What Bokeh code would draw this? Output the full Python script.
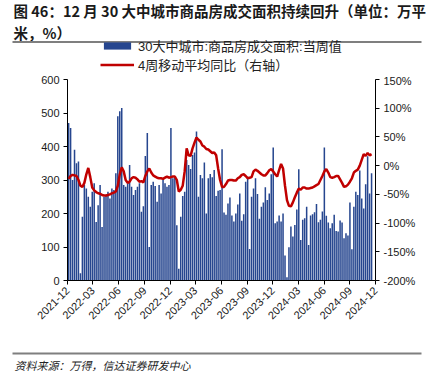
import pandas as pd
from math import pi
from bokeh.plotting import figure
from bokeh.models import (Range1d, LinearAxis, FixedTicker, DatetimeTickFormatter,
                          Legend, LegendItem, CustomJSTickFormatter, ColumnDataSource,
                          BoxAnnotation)
from bokeh.layouts import column
from bokeh.embed import file_html
from bokeh.resources import INLINE
from bokeh.core.properties import value

title_line1 = "图 46：12 月 30 大中城市商品房成交面积持续回升（单位：万平"
title_line2 = "米，%）"
source_text = "资料来源：万得，信达证券研发中心"
bar_label = "30大中城市:商品房成交面积:当周值"
line_label = "4周移动平均同比（右轴）"

first_week = "2021-12-05"
tick_labels = ["2021-12", "2022-03", "2022-06", "2022-09", "2022-12", "2023-03", "2023-06",
               "2023-09", "2023-12", "2024-03", "2024-06", "2024-09", "2024-12"]
left_ticks = [0, 100, 200, 300, 400, 500, 600]
right_ticks = [-200, -150, -100, -50, 0, 50, 100, 150]

# weekly transaction area (10k m2)
area = [
    470, 455, 300, 390, 350, 355, 22, 190, 285, 275, 250, 220, 265, 290,
    175, 225, 285, 160, 250, 255, 265, 245, 275, 270, 320, 490, 505, 515,
    285, 280, 290, 345, 280, 255, 270, 280, 290,
    205, 222, 372, 440, 100, 285, 295, 282, 235, 285, 260, 300, 290, 280,
    285, 455, 305, 310, 165, 35, 190, 252, 265, 360, 345, 333, 375, 382,
    445, 250, 315, 305, 352, 200, 305, 318, 308, 330, 252, 268, 270, 392,
    203, 196, 230, 248, 194, 176, 200, 227, 260, 178, 198, 295, 310, 94,
    250, 275, 305, 258, 184, 220, 233, 278, 240, 260, 317, 397, 171, 176,
    194, 176, 200, 75, 10, 99, 161, 131, 166, 212, 332,
    121, 181, 186, 220, 106, 194, 198, 204, 228, 174, 181, 206, 397, 193,
    173, 156, 171, 196, 148, 146, 179, 173, 126, 141, 134, 233, 93, 220,
    265, 255, 328, 245, 215, 287, 371, 260, 320,
]

# 4-week moving average YoY (%)
yoy = [
    -23, -18, -16, -17, -18, -25, -35, -37, -30, -15, -4, -20, -38, -43,
    -46, -48, -49, -51, -52, -52, -51, -50, -48, -47, -45, -35, -15, -3,
    -10, -25, -30, -28, -22, -20, -21, -24, -28,
    -27, -29, -18, -10, -5, -12, -17, -19, -21, -22, -22, -23, -21, -19,
    -21, -20, -19, -19, -25, -45, -42, -35, -10, 30, 18, 17, 30, 40,
    49, 45, 42, 35, 33, 29, 28, 25, 22, 23, 18, -5, -25, -37,
    -37, -32, -26, -25, -25, -26, -26, -22, -20, -16, -15, -18, -22, -21,
    -20, -10, -7, -9, -12, -15, -17, -17, -13, -8, -6, -10, -15, -19,
    -8, 3, -5, -35, -60, -70, -71, -64, -55, -47, -40,
    -42, -38, -38, -40, -40, -39, -38, -36, -34, -32, -25, -18, -10, -6,
    -12, -20, -21, -20, -18, -18, -24, -30, -37, -36, -33, -28, -22, -12,
    -9, -7, 0, 10, 20, 17, 22, 18, 20,
]

weeks = pd.date_range(first_week, periods=len(area), freq="7D")
src = ColumnDataSource(dict(week=weeks, area=area, yoy=yoy))

CJK = "Noto Sans CJK SC"
NUM = "Liberation Sans"
DAY_MS = 86400000
W = 426
BAR_COLOR = "#26468F"
LINE_COLOR = "#C00000"
SEP_COLOR = "#7f7f7f"


def strip(height):
    f = figure(width=W, height=height, x_range=Range1d(0, W), y_range=Range1d(0, height),
               output_backend="svg", toolbar_location=None, min_border=0,
               x_axis_location=None, y_axis_location=None)
    f.frame_align = False
    f.grid.visible = False
    f.outline_line_color = None
    return f


# ---------- top: title + legend ----------
HT = 74
top = strip(HT)
top.text(x=[13, 13], y=[HT - 10, HT - 32], text=[title_line1, title_line2],
         text_font=value(CJK), text_font_size="14.5px", text_font_style="bold",
         text_color="#1a1a1a", text_baseline="middle", text_align="left")
top.add_layout(BoxAnnotation(left=12, right=421, bottom=HT - 42.5, top=HT - 40.5,
                             fill_color=SEP_COLOR, fill_alpha=1, line_color=None))

# legend: the same series, repeated on this strip only as legend entries (out of range here)
lg_bar = top.vbar(x="week", top="area", width=5.4 * DAY_MS, source=src,
                  fill_color=BAR_COLOR, line_color=None)
lg_line = top.line(x="week", y="yoy", source=src, line_color=LINE_COLOR, line_width=2.5)
legend = Legend(items=[LegendItem(label=bar_label, renderers=[lg_bar]),
                       LegendItem(label=line_label, renderers=[lg_line])],
                location=(100, 0), orientation="vertical", padding=0, margin=0,
                spacing=0, glyph_width=34, glyph_height=9, label_height=13,
                label_standoff=4, border_line_color=None, background_fill_alpha=0,
                label_text_font="Liberation Sans, Noto Sans CJK SC",
                label_text_font_size="13px", label_text_color="#222222")
top.add_layout(legend)

# ---------- main chart ----------
p = figure(width=W, height=271, x_axis_type="datetime",
           x_range=Range1d(pd.Timestamp("2021-12-01"), pd.Timestamp("2024-12-01")),
           y_range=Range1d(0, 600),
           output_backend="svg", toolbar_location=None,
           min_border_left=67, min_border_right=51, min_border_top=5, min_border_bottom=65)
p.frame_align = False
p.grid.visible = False
p.outline_line_color = None
p.extra_y_ranges = {"pct": Range1d(-200, 150)}

p.vbar(x="week", top="area", width=5.4 * DAY_MS, source=src,
       fill_color=BAR_COLOR, line_color=None)
p.line(x="week", y="yoy", y_range_name="pct", source=src,
       line_color=LINE_COLOR, line_width=2.5)

right_axis = LinearAxis(y_range_name="pct")
p.add_layout(right_axis, "right")

tick_ms = [pd.Timestamp(t + "-01").value // 10**6 for t in tick_labels]
p.xaxis.ticker = FixedTicker(ticks=tick_ms)
p.xaxis.formatter = DatetimeTickFormatter(days="%Y-%m", months="%Y-%m", years="%Y-%m")
p.xaxis.major_label_orientation = pi / 4
p.yaxis[0].ticker = FixedTicker(ticks=left_ticks)
right_axis.ticker = FixedTicker(ticks=right_ticks)
right_axis.formatter = CustomJSTickFormatter(code="return tick + '%';")

for ax in [p.xaxis[0], p.yaxis[0], right_axis]:
    ax.axis_line_color = "#000000"
    ax.axis_line_width = 1
    ax.major_tick_line_color = "#000000"
    ax.major_tick_out = 4
    ax.major_tick_in = 0
    ax.minor_tick_line_color = None
    ax.major_label_text_font = NUM
    ax.major_label_text_font_size = "11px"
    ax.major_label_text_color = "#1a1a1a"
    ax.major_label_standoff = 4

# ---------- bottom: source ----------
HB = 31
bot = strip(HB)
bot.add_layout(BoxAnnotation(left=12, right=421, bottom=HB - 9, top=HB - 7,
                             fill_color=SEP_COLOR, fill_alpha=1, line_color=None))
bot.text(x=[14], y=[HB - 19.5], text=[source_text], text_font=value(CJK), text_font_size="11px",
         text_font_style="italic", text_color="#222222", text_baseline="middle",
         text_align="left")

layout = column(top, p, bot, spacing=0)
open("out.html", "w").write(file_html(layout, INLINE))
